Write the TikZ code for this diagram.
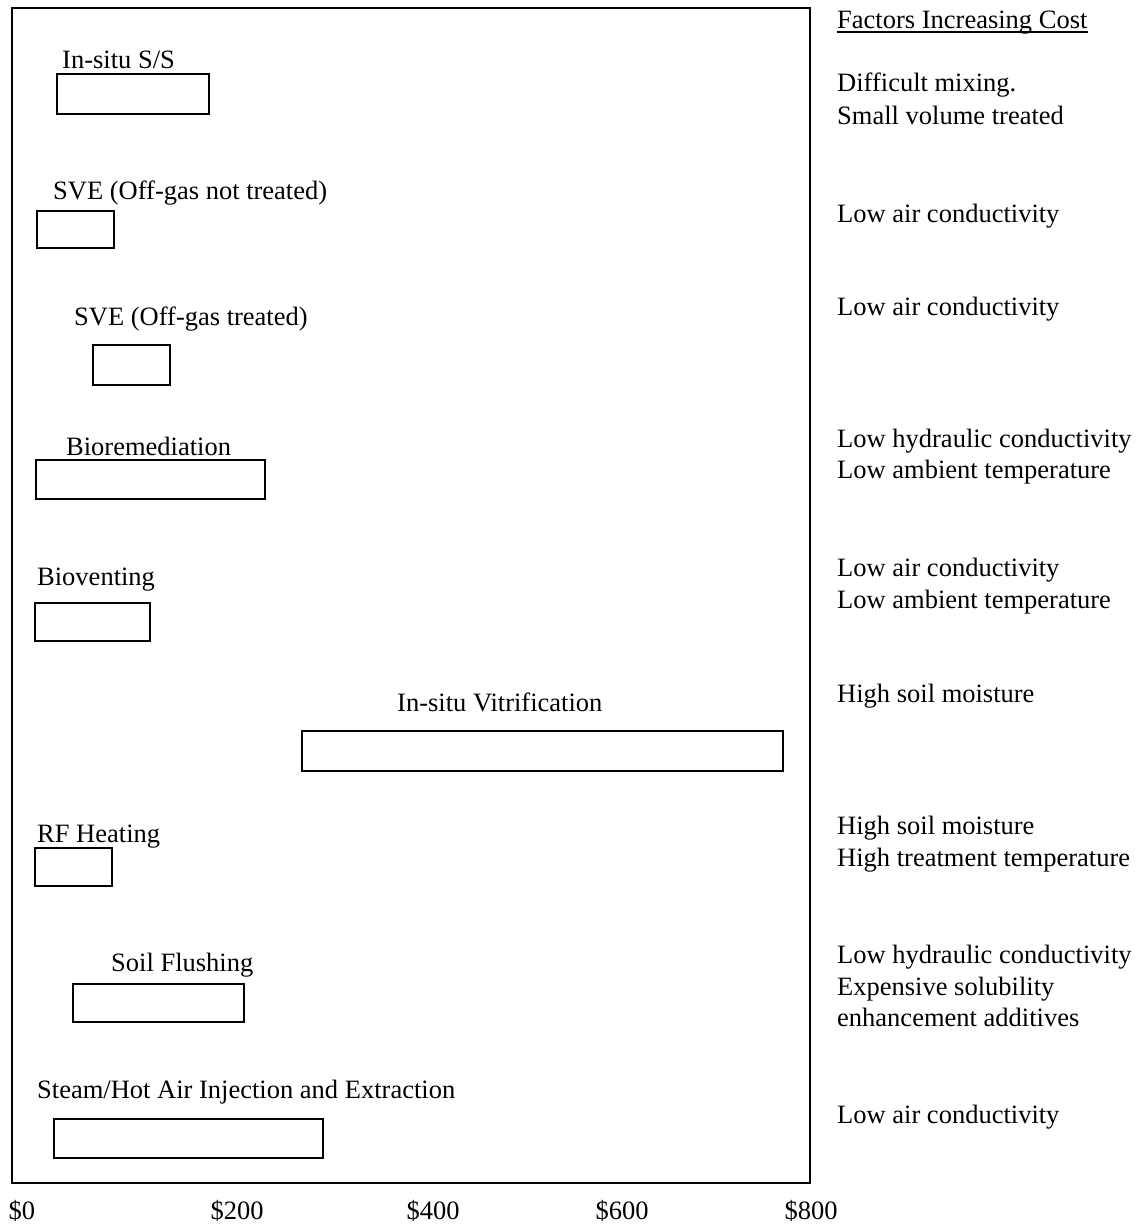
\documentclass[tikz,border=0pt]{standalone}
\usepackage{fontspec}
\setmainfont{Liberation Serif}
\begin{document}
\begin{tikzpicture}[x=1pt,y=-1pt,
  lbl/.style={anchor=base west,inner sep=0pt,font=\fontsize{26.5}{31}\selectfont},
  tick/.style={anchor=base,inner sep=0pt,font=\fontsize{26.5}{31}\selectfont},
  bar/.style={draw,line width=2pt,inner sep=0pt}]
\useasboundingbox[fill=white] (0,0) rectangle (1143,1225);
% chart frame
\node[draw,line width=1.8pt,inner sep=0pt,minimum width=798pt,minimum height=1175pt] (frame) at (411,595.5) {};
% cost bars (x from left edge to right edge, y from top to bottom)
\newcommand{\costbar}[5]{\node[bar,minimum width=#3-#2,minimum height=#5-#4] (#1) at ({(#2+#3)/2},{(#4+#5)/2}) {};}
\costbar{ss}{57}{209}{74}{114}
\costbar{svea}{37}{114}{211}{248}
\costbar{sveb}{93}{170}{345}{385}
\costbar{bior}{36}{265}{460}{499}
\costbar{biov}{35}{150}{603}{641}
\costbar{vitr}{302}{783}{731}{771}
\costbar{rfh}{35}{112}{848}{886}
\costbar{flush}{73}{244}{984}{1022}
\costbar{steam}{54}{323}{1119}{1158}
% technology labels
\node[lbl] (tss) at (62,69) {In-situ S/S};
\node[lbl] (tsvea) at (53,199) {SVE (Off-gas not treated)};
\node[lbl] (tsveb) at (74,325) {SVE (Off-gas treated)};
\node[lbl] (tbior) at (66,455) {Bioremediation};
\node[lbl] (tbiov) at (37,585) {Bioventing};
\node[lbl] (tvitr) at (397,711) {In-situ Vitrification};
\node[lbl] (trfh) at (37,842) {RF Heating};
\node[lbl] (tflush) at (111,971) {Soil Flushing};
\node[lbl] (tsteam) at (37,1098) {Steam/Hot Air Injection and Extraction};
% cost factors
\node[lbl] (fhead) at (837,29) {Factors Increasing Cost};
\draw[line width=1.3pt] ([yshift=-3pt]fhead.base west) -- ([yshift=-3pt]fhead.base east);
\node[lbl] (f1a) at (837,92) {Difficult mixing.};
\node[lbl] (f1b) at (837,125) {Small volume treated};
\node[lbl] (f2) at (837,222) {Low air conductivity};
\node[lbl] (f3) at (837,315) {Low air conductivity};
\node[lbl] (f4a) at (837,447) {Low hydraulic conductivity};
\node[lbl] (f4b) at (837,478) {Low ambient temperature};
\node[lbl] (f5a) at (837,576) {Low air conductivity};
\node[lbl] (f5b) at (837,608) {Low ambient temperature};
\node[lbl] (f6) at (837,702) {High soil moisture};
\node[lbl] (f7a) at (837,834) {High soil moisture};
\node[lbl] (f7b) at (837,866) {High treatment temperature};
\node[lbl] (f8a) at (837,963) {Low hydraulic conductivity};
\node[lbl] (f8b) at (837,995) {Expensive solubility};
\node[lbl] (f8c) at (837,1026) {enhancement additives};
\node[lbl] (f9) at (837,1123) {Low air conductivity};
% cost axis
\node[tick] (c0) at (22,1219) {\$0};
\node[tick] (c200) at (237,1219) {\$200};
\node[tick] (c400) at (433,1219) {\$400};
\node[tick] (c600) at (622,1219) {\$600};
\node[tick] (c800) at (811,1219) {\$800};
\end{tikzpicture}
\end{document}
